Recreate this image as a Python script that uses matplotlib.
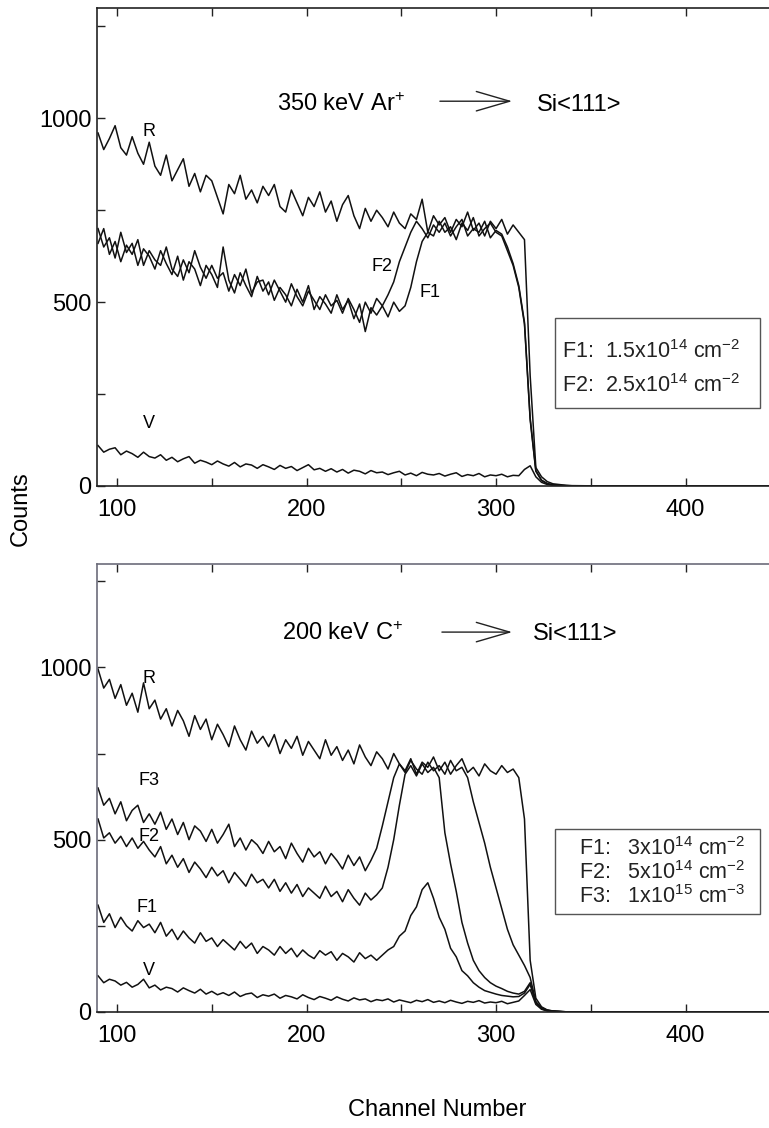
"""
RBS channeling spectra: 350 keV Ar+ and 200 keV C+ implanted Si<111>
"""
import numpy as np
import matplotlib
matplotlib.use("Agg")
import matplotlib.pyplot as plt
from matplotlib.patches import Rectangle
from matplotlib.ticker import MultipleLocator

plt.rcParams['font.family'] = ['Liberation Sans', 'DejaVu Sans']
plt.rcParams['mathtext.fontset'] = 'custom'
plt.rcParams['mathtext.rm'] = 'Liberation Sans'
plt.rcParams['mathtext.default'] = 'regular'

# channel axis: every 3rd channel up to the surface edge, then the flat tail
channels = list(range(90, 331, 3)) + [335, 340, 360, 400, 450]

# ---- top panel: 350 keV Ar+ ----
r_top = [960, 915, 945, 980, 920, 900, 950, 905, 875, 935,
         870, 845, 900, 830, 860, 890, 815, 850, 800, 845,
         830, 785, 740, 820, 795, 845, 780, 805, 770, 815,
         790, 820, 760, 745, 805, 770, 735, 785, 760, 800,
         745, 775, 720, 765, 790, 735, 700, 755, 720, 750,
         730, 705, 745, 715, 700, 740, 725, 780, 690, 735,
         710, 730, 690, 725, 705, 745, 695, 715, 680, 720,
         700, 725, 685, 710, 690, 670, 300, 50, 25, 12,
         6, 3, 1, 0, 0, 0]
f1_top = [700, 650, 675, 620, 690, 635, 660, 600, 645, 625,
          590, 640, 605, 575, 625, 560, 610, 590, 545, 600,
          575, 540, 650, 560, 525, 580, 545, 515, 570, 530,
          555, 505, 540, 520, 490, 535, 500, 545, 480, 515,
          495, 470, 520, 480, 505, 455, 495, 420, 485, 465,
          490, 460, 500, 475, 490, 540, 610, 665, 690, 680,
          720, 690, 705, 670, 715, 695, 730, 680, 700, 715,
          690, 680, 640, 600, 540, 440, 180, 40, 15, 6,
          3, 1, 0, 0, 0, 0]
f2_top = [660, 700, 630, 665, 610, 655, 630, 670, 600, 640,
          615, 600, 650, 590, 570, 615, 580, 640, 595, 565,
          600, 565, 580, 530, 575, 545, 590, 525, 555, 560,
          520, 560, 530, 500, 550, 515, 490, 530, 505, 480,
          520, 490, 505, 470, 510, 480, 445, 500, 470, 510,
          490, 520, 555, 610, 650, 690, 720, 700, 675, 710,
          690, 715, 680, 705, 725, 680, 700, 690, 720, 675,
          695, 685, 650, 605, 545, 445, 185, 42, 16, 7,
          3, 1, 0, 0, 0, 0]
v_top = [110, 92, 100, 104, 85, 95, 88, 78, 92, 80,
         76, 85, 70, 78, 66, 74, 80, 62, 70, 65,
         58, 68, 60, 54, 64, 52, 60, 57, 48, 58,
         52, 45, 56, 48, 53, 42, 50, 58, 44, 48,
         40, 47, 38, 45, 35, 43, 40, 33, 42, 36,
         38, 31, 36, 40, 30, 35, 28, 37, 32, 30,
         34, 27, 32, 36, 26, 31, 28, 34, 25, 30,
         28, 32, 25, 29, 28, 45, 55, 25, 10, 4,
         2, 1, 0, 0, 0, 0]

# ---- bottom panel: 200 keV C+ ----
r_bot = [995, 940, 965, 910, 950, 890, 925, 870, 955, 880,
         905, 850, 880, 830, 875, 845, 800, 860, 820, 850,
         790, 835, 805, 770, 830, 790, 760, 815, 780, 800,
         770, 805, 750, 790, 765, 800, 745, 785, 760, 735,
         790, 745, 770, 730, 760, 720, 775, 740, 715, 755,
         735, 705, 750, 720, 700, 735, 690, 725, 710, 740,
         700, 725, 690, 715, 735, 695, 710, 685, 720, 700,
         690, 715, 695, 705, 680, 560, 150, 40, 15, 6,
         3, 1, 0, 0, 0, 0]
f3_bot = [650, 600, 620, 575, 610, 555, 585, 600, 550, 575,
          545, 580, 530, 560, 515, 550, 500, 540, 525, 495,
          530, 490, 515, 545, 480, 505, 470, 500, 485, 460,
          495, 465, 480, 445, 490, 460, 435, 475, 450, 465,
          430, 460, 440, 415, 455, 425, 450, 410, 440, 475,
          540, 610, 680, 720, 695, 730, 705, 690, 725, 700,
          715, 690, 730, 700, 710, 680, 610, 550, 490, 420,
          360, 300, 240, 195, 165, 135, 100, 30, 12, 5,
          3, 1, 0, 0, 0, 0]
f2_bot = [560, 505, 520, 490, 510, 480, 505, 475, 495, 470,
          450, 480, 430, 455, 420, 445, 405, 435, 415, 390,
          420, 395, 410, 375, 405, 385, 365, 400, 375, 385,
          360, 385, 350, 375, 345, 370, 335, 360, 345, 330,
          365, 335, 350, 320, 355, 330, 310, 345, 325, 340,
          360, 420, 500, 600, 690, 715, 685, 720, 695, 710,
          680, 520, 430, 350, 260, 200, 150, 120, 100, 85,
          75, 68, 60, 55, 52, 60, 85, 28, 10, 5,
          2, 1, 0, 0, 0, 0]
f1_bot = [310, 260, 285, 245, 275, 250, 235, 265, 245, 255,
          230, 260, 220, 240, 210, 235, 215, 200, 230, 205,
          215, 190, 210, 195, 180, 205, 185, 200, 170, 190,
          180, 165, 190, 170, 185, 160, 180, 165, 155, 178,
          165, 175, 150, 170, 160, 145, 172, 155, 165, 150,
          165, 180, 190, 220, 235, 280, 305, 355, 375, 330,
          275, 240, 185, 160, 120, 105, 85, 72, 62, 57,
          52, 48, 46, 44, 45, 55, 80, 26, 9, 4,
          2, 1, 0, 0, 0, 0]
v_bot = [105, 85, 95, 90, 78, 86, 72, 80, 95, 70,
         78, 64, 72, 68, 58, 70, 62, 55, 66, 52,
         60, 50, 56, 48, 58, 45, 52, 55, 42, 50,
         46, 52, 40, 48, 44, 38, 50, 42, 36, 45,
         40, 34, 44, 37, 32, 41, 35, 38, 30, 36,
         33, 38, 29, 35, 31, 27, 34, 30, 36, 28,
         32, 27, 34, 29, 25, 31, 28, 33, 26, 29,
         27, 31, 24, 28, 32, 48, 65, 22, 8, 3,
         1, 0, 0, 0, 0, 0]

x_ticks = [100, 200, 300, 400]
y_ticks = [0, 500, 1000]

top_legend = [r"F1:  1.5x10$^{14}$ cm$^{-2}$", r"F2:  2.5x10$^{14}$ cm$^{-2}$"]
bot_legend = [r"F1:   3x10$^{14}$ cm$^{-2}$", r"F2:   5x10$^{14}$ cm$^{-2}$",
              r"F3:   1x10$^{15}$ cm$^{-3}$"]

W, H = 769, 1128
fig = plt.figure(figsize=(W / 100, H / 100), dpi=100)


def px_axes(left, top, right, bottom):
    return fig.add_axes([left / W, 1 - bottom / H, (right - left) / W, (bottom - top) / H])


def style_axes(ax, spine_col):
    ax.set_xlim(89.45, 445.6)
    ax.set_ylim(0, 1300)
    ax.set_xticks(x_ticks)
    ax.set_yticks(y_ticks)
    ax.xaxis.set_minor_locator(MultipleLocator(50))
    ax.yaxis.set_minor_locator(MultipleLocator(250))
    ax.tick_params(which='both', direction='in', top=True, right=False,
                   length=6, width=1, color='#222222')
    ax.tick_params(axis='x', labelsize=17, pad=9)
    ax.tick_params(axis='y', labelsize=17, pad=4)
    ax.spines['right'].set_visible(False)
    for s in ('left', 'top'):
        ax.spines[s].set_color(spine_col)
        ax.spines[s].set_linewidth(1.2)
    ax.spines['bottom'].set_color('#222222')
    ax.spines['bottom'].set_linewidth(1.2)


def draw_legend(ax, box, lines, x0, ys):
    x_l, y_b, w, h = box
    ax.add_patch(Rectangle((x_l, y_b), w, h, transform=ax.transAxes,
                           fill=False, ec='#555555', lw=1.0))
    for txt, yy in zip(lines, ys):
        ax.text(x0, yy, txt, transform=ax.transAxes, fontsize=15.5,
                va='center', ha='left', color='#222222')


lw = 1.1
col = '#111111'

# top panel
ax1 = px_axes(97, 8, 772, 486)
for y in (r_top, f1_top, f2_top, v_top):
    ax1.plot(channels, y, color=col, lw=lw)
style_axes(ax1, '#222222')
ax1.text(117, 963, "R", fontsize=13, ha='center', va='center')
ax1.text(117, 171, "V", fontsize=13, ha='center', va='center')
ax1.text(240, 598, "F2", fontsize=13, ha='center', va='center')
ax1.text(265, 525, "F1", fontsize=13, ha='center', va='center')
ax1.text(0.267, 0.785, r"350 keV Ar$^{+}$", transform=ax1.transAxes,
         fontsize=17, va='baseline', ha='left')
ax1.annotate('', xy=(0.615, 0.805), xytext=(0.508, 0.805), xycoords='axes fraction',
             arrowprops=dict(arrowstyle='->,head_length=1.2,head_width=0.35',
                             lw=1.0, color='#222222', mutation_scale=20,
                             shrinkA=0, shrinkB=0))
ax1.text(0.652, 0.785, "Si<111>", transform=ax1.transAxes,
         fontsize=17, va='baseline', ha='left')
draw_legend(ax1, (0.6785, 0.1632, 0.3037, 0.1883), top_legend, 0.689, [0.281, 0.211])

# bottom panel
ax2 = px_axes(97, 564, 772, 1012)
for y in (r_bot, f3_bot, f2_bot, f1_bot, v_bot):
    ax2.plot(channels, y, color=col, lw=lw)
style_axes(ax2, '#6c6c7a')
ax2.text(117, 969, "R", fontsize=13, ha='center', va='center')
ax2.text(117, 673, "F3", fontsize=13, ha='center', va='center')
ax2.text(117, 508, "F2", fontsize=13, ha='center', va='center')
ax2.text(116, 302, "F1", fontsize=13, ha='center', va='center')
ax2.text(117, 119, "V", fontsize=13, ha='center', va='center')
ax2.text(0.274, 0.830, r"200 keV C$^{+}$", transform=ax2.transAxes,
         fontsize=17, va='baseline', ha='left')
ax2.annotate('', xy=(0.615, 0.848), xytext=(0.511, 0.848), xycoords='axes fraction',
             arrowprops=dict(arrowstyle='->,head_length=1.2,head_width=0.35',
                             lw=1.0, color='#222222', mutation_scale=20,
                             shrinkA=0, shrinkB=0))
ax2.text(0.646, 0.830, "Si<111>", transform=ax2.transAxes,
         fontsize=17, va='baseline', ha='left')
draw_legend(ax2, (0.6785, 0.2188, 0.3037, 0.1897), bot_legend, 0.714,
            [0.364, 0.311, 0.257])

fig.text(21 / W, 1 - 509 / H, "Counts", rotation=90, fontsize=17,
         ha='center', va='center')
fig.text(437 / W, 1 - 1110 / H, "Channel Number", fontsize=17,
         ha='center', va='center')

fig.savefig("out.png", dpi=100)
